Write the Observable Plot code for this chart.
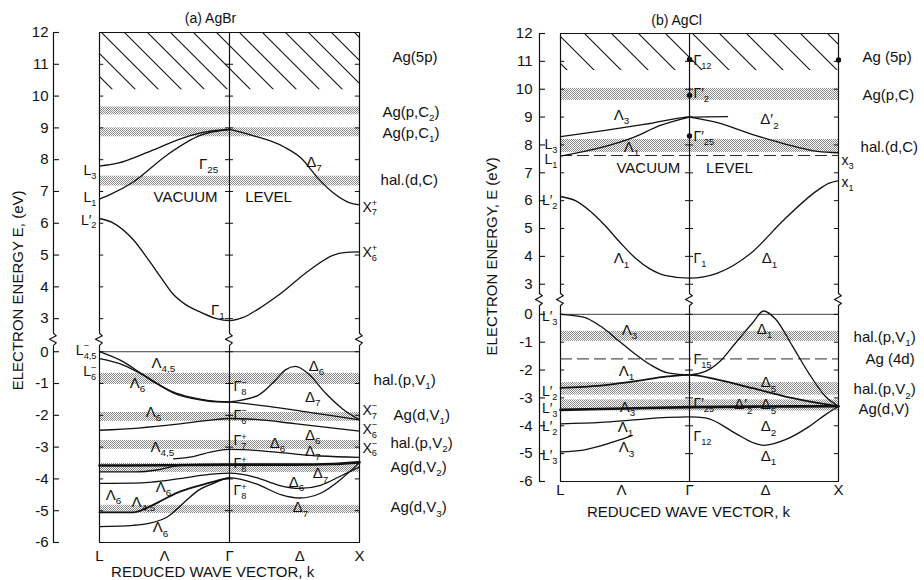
<!DOCTYPE html>
<html><head><meta charset="utf-8">
<script src="https://cdn.jsdelivr.net/npm/d3@7"></script>
<script src="https://cdn.jsdelivr.net/npm/@observablehq/plot@0.6"></script>
<style>
body{margin:0;background:#fff}
#wrap{position:relative;width:924px;height:580px;overflow:hidden}
#wrap svg{position:absolute;top:0}
</style>
</head><body><div id="wrap"></div>
<script>
// ---------- common ----------
const tickE = [-6,-5,-4,-3,-2,-1,0,3,4,5,6,7,8,9,10,11,12];
const kLetters = ["L","Λ","Γ","Δ","X"];

// ---------- (a) AgBr : k  L=0, Γ=0.5, X=1 ; energies in eV ----------
const brKPos = [0, 0.25, 0.5, 0.77, 1];
const brHatch = [10.2, 12];
const brBandLo = [9.41, 8.72, 7.17, -1.03, -2.19, -3.07, -3.80, -5.09];
const brBandHi = [9.66, 9.00, 7.48, -0.68, -1.91, -2.79, -3.51, -4.83];
// upper (conduction) bands
const brL3  = [[0,7.8],[0.07,7.89],[0.196,8.27],[0.32,8.68],[0.415,8.88],[0.5,8.95]];
const brL1  = [[0,6.76],[0.04,6.9],[0.13,7.3],[0.26,8.15],[0.39,8.77],[0.5,8.95]];
const brD7  = [[0.5,8.95],[0.58,8.78],[0.71,8.4],[0.775,8.05],[0.84,7.42],[0.9,6.95],[0.96,6.65],[1,6.58]];
const brG1  = [[0,6.15],[0.05,6.02],[0.13,5.48],[0.196,4.76],[0.24,4.25],[0.28,3.8],[0.33,3.45],[0.39,3.2],[0.45,3.0],[0.5,2.94],[0.55,3.03],[0.61,3.3],[0.685,3.72],[0.81,4.54],[0.9,5.0],[0.94,5.08],[1,5.1]];
// lower (valence) bands
const brV45 = [[0,0],[0.092,-0.32],[0.158,-0.67],[0.223,-1.0],[0.285,-1.27],[0.35,-1.43],[0.415,-1.53],[0.5,-1.58]];
const brV6  = [[0,-0.22],[0.092,-0.42],[0.158,-0.69],[0.223,-1.02],[0.285,-1.3],[0.35,-1.46],[0.415,-1.55],[0.5,-1.59]];
const brD6u = [[0.5,-1.58],[0.61,-1.37],[0.677,-0.89],[0.715,-0.57],[0.754,-0.46],[0.804,-0.7],[0.869,-1.3],[0.935,-1.8],[1,-2.14]];
const brD7u = [[0.5,-1.58],[0.65,-1.72],[0.8,-1.9],[1,-2.14]];
const brC   = [[0,-2.47],[0.15,-2.4],[0.3,-2.28],[0.42,-2.16],[0.5,-2.1],[0.6,-2.13],[0.75,-2.26],[0.9,-2.4],[1,-2.5]];
const brD   = [[0.285,-3.37],[0.36,-3.3],[0.43,-3.15],[0.5,-3.07],[0.6,-3.1],[0.73,-3.2],[0.85,-3.28],[1,-3.32]];
const brHvy = [[0,-3.58],[0.25,-3.57],[0.5,-3.55],[0.75,-3.55],[0.9,-3.53],[1,-3.48]];
const brE2  = [[0,-3.78],[0.14,-3.78],[0.22,-3.72],[0.29,-3.6],[0.36,-3.56]];
const brF   = [[0,-4.14],[0.13,-4.13],[0.2,-4.1],[0.3,-4.0],[0.4,-3.88],[0.5,-3.82],[0.6,-3.95],[0.69,-4.2],[0.77,-4.3],[0.85,-4.2],[0.93,-3.9],[1,-3.62]];
const brG   = [[0,-5.05],[0.13,-5.05],[0.21,-4.8],[0.3,-4.43],[0.38,-4.22],[0.45,-4.06],[0.5,-3.97]];
const brH   = [[0,-5.5],[0.13,-5.46],[0.19,-5.4],[0.26,-5.2],[0.32,-4.78],[0.38,-4.36],[0.45,-4.1],[0.5,-3.97],[0.6,-4.15],[0.7,-4.5],[0.77,-4.6],[0.85,-4.45],[0.93,-4.0],[1,-3.48]];
const brLeft  = [[7.67,"L_3"],[6.8,"L_1"],[6.1,"L′_2"],[0.05,"L^−_{4,5}"],[-0.62,"L^−_6"]];
const brGam   = [[-1.09,"Γ^−_8"],[-2.0,"Γ^−_6"],[-2.79,"Γ^+_7"],[-3.51,"Γ^+_8"],[-4.36,"Γ^+_8"]];
const brXl    = [[6.51,"X^+_7"],[5.09,"X^+_6"],[-1.84,"X^−_7"],[-2.44,"X^−_6"],[-3.03,"X^−_6"]];
const brInner = [[0.42,7.86,"Γ_{25}"],[0.825,7.92,"Δ_7"],[0.331,6.82,"VACUUM"],[0.65,6.82,"LEVEL"],[0.455,3.28,"Γ_1"],
  [0.246,-0.36,"Λ_{4,5}"],[0.146,-0.99,"Λ_6"],[0.208,-1.91,"Λ_6"],[0.242,-3.01,"Λ_{4,5}"],[0.246,-4.27,"Λ_6"],
  [0.054,-4.52,"Λ_6"],[0.169,-4.74,"Λ_{4,5}"],[0.235,-5.53,"Λ_6"],
  [0.835,-0.46,"Δ_6"],[0.82,-1.43,"Δ_7"],[0.685,-2.88,"Δ_6"],[0.82,-2.63,"Δ_6"],[0.82,-3.13,"Δ_7"],
  [0.758,-4.11,"Δ_6"],[0.85,-3.83,"Δ_7"],[0.773,-4.9,"Δ_7"]];
const brRight = [[1.127,11.23,"Ag(5p)"],[1.088,9.5,"Ag(p,C_2)"],[1.088,8.84,"Ag(p,C_1)"],[1.081,7.36,"hal.(d,C)"],
  [1.054,-0.9,"hal.(p,V_1)"],[1.131,-2.0,"Ag(d,V_1)"],[1.119,-2.88,"hal.(p,V_2)"],[1.119,-3.64,"Ag(d,V_2)"],[1.119,-4.9,"Ag(d,V_3)"]];

// ---------- (b) AgCl : k  L=0, Γ=0.866, X=1.866 ----------
const clKPos = [0, 0.41, 0.866, 1.376, 1.866];
const clHatch = [10.67, 12];
const clBandLo = [9.6, 7.73, -0.97, -2.9, -3.47];
const clBandHi = [10.03, 8.2, -0.61, -2.45, -3.07];
const clDashed = [7.62, -1.6];
const clL3  = [[0,8.3],[0.3,8.52],[0.6,8.77],[0.866,9.0],[1.121,9.02]];
const clL1  = [[0,7.6],[0.27,7.9],[0.49,8.27],[0.67,8.7],[0.866,9.0]];
const clD2  = [[0.866,9.0],[1.054,8.8],[1.275,8.4],[1.497,8.05],[1.725,7.77],[1.866,7.72]];
const clG1  = [[0,6.15],[0.1,6.0],[0.2,5.62],[0.3,5.1],[0.4,4.5],[0.5,3.95],[0.6,3.55],[0.7,3.32],[0.866,3.22],[1.054,3.4],[1.275,4.1],[1.497,5.3],[1.725,6.37],[1.8,6.62],[1.866,6.72]];
const clV1  = [[0,0],[0.154,-0.1],[0.27,-0.43],[0.38,-0.9],[0.49,-1.38],[0.6,-1.8],[0.72,-2.1],[0.866,-2.17],[0.973,-2.05],[1.06,-1.74],[1.175,-1.03],[1.29,-0.3],[1.363,0.12],[1.443,-0.17],[1.557,-1.14],[1.665,-2.1],[1.779,-2.95],[1.866,-3.3]];
const clV2  = [[0,-2.64],[0.27,-2.56],[0.49,-2.41],[0.72,-2.23],[0.866,-2.17],[1.06,-2.35],[1.29,-2.65],[1.51,-2.95],[1.866,-3.3]];
const clHvy = [[0,-3.43],[0.433,-3.38],[0.866,-3.33],[1.366,-3.31],[1.866,-3.3]];
const clV4  = [[0,-3.93],[0.27,-3.88],[0.49,-3.79],[0.72,-3.7],[0.866,-3.68],[0.973,-3.72],[1.175,-4.27],[1.29,-4.6],[1.363,-4.7],[1.51,-4.5],[1.665,-4.04],[1.779,-3.6],[1.866,-3.3]];
const clV5  = [[0,-4.94],[0.154,-4.87],[0.4,-4.5],[0.48,-4.35]];
const clDots = [[0.866,11.07],[0.866,9.78],[0.866,8.32],[1.866,11.05]];
const clLeft  = [[8.02,"L_3"],[7.48,"L_1"],[6.01,"L′_2"],[-0.08,"L′_3"],[-2.77,"L′_2"],[-3.38,"L′_3"],[-4.03,"L′_2"],[-5.07,"L′_3"]];
const clGam   = [[11.03,"Γ_{12}"],[9.85,"Γ′_2"],[8.30,"Γ′_{25}"],[3.92,"Γ_1"],[-1.62,"Γ_{15}"],[-3.2,"Γ′_{25}"],[-4.38,"Γ_{12}"]];
const clXl    = [[7.44,"x_3"],[6.65,"x_1"]];
const clInner = [[0.41,9.06,"Λ_3"],[1.403,8.91,"Δ′_2"],[0.477,7.91,"Λ_1"],[0.59,7.15,"VACUUM"],[1.134,7.15,"LEVEL"],
  [0.41,3.92,"Λ_1"],[1.403,3.92,"Δ_1"],[0.463,-0.58,"Λ_3"],[0.443,-2.05,"Λ_1"],[0.45,-3.34,"Λ_3"],[0.436,-4.06,"Λ_1"],
  [0.443,-4.78,"Λ_3"],[1.369,-0.54,"Δ_1"],[1.396,-2.45,"Δ_5"],[1.228,-3.24,"Δ′_2"],[1.396,-3.24,"Δ_5"],[1.396,-4.03,"Δ_2"],[1.396,-5.1,"Δ_1"]];
const clRight = [[2.027,11.14,"Ag (5p)"],[2.027,9.78,"Ag(p,C)"],[2.014,7.91,"hal.(d,C)"],[1.967,-0.83,"hal.(p,V_1)"],
  [2.047,-1.62,"Ag (4d)"],[1.967,-2.70,"hal.(p,V_2)"],[2.0,-3.42,"Ag(d,V)"]];

// ---------- drawing ----------
const INK = "#111";
const FONT = "'Liberation Sans', Arial, 'DejaVu Sans', sans-serif";

function panelMarks(P) {
  const tv = P.toV;
  const tk = 6 / P.pxPerK, cr = 4 / P.pxPerK, zw = 4 / P.pxPerK;
  const vTop = tv(12), vBot = tv(-6);
  const verts = [P.axisK, P.kL, P.kG, P.kX];
  const brk = [];
  verts.forEach((x, i) => {
    const [lo, hi] = P.zig;
    [[0, vBot],[0, lo],[zw*0.7, lo + 0.08],[-zw, (lo+hi)/2],[zw*0.7, hi - 0.08],[0, hi],[0, vTop]]
      .forEach(([dx, v]) => brk.push({x: x + dx, v, z: i}));
  });
  const line = (c, w) => Plot.line(c, {x: d => d[0], y: d => tv(d[1]), curve: "monotone-x", stroke: INK, strokeWidth: w});
  const lbl = {fill: INK, fontSize: 15};
  const sm = {fill: INK, fontSize: 14};
  return [
    Plot.rect([P.hatch], {x1: P.kL, x2: P.kX, y1: d => tv(d[0]), y2: d => tv(d[1]), fill: `url(#${P.id}hatch)`}),
    Plot.rect(d3.zip(P.bandLo, P.bandHi), {x1: P.kL, x2: P.kX, y1: d => tv(d[0]), y2: d => tv(d[1]), fill: `url(#${P.id}stip)`}),
    ...(P.dashed || []).map(E => Plot.ruleY([E], {y: tv, x1: P.kL, x2: P.kX, stroke: INK, strokeWidth: 0.9, strokeDasharray: "12,5"})),
    Plot.ruleY([12, -6], {y: tv, x1: P.kL, x2: P.kX, stroke: INK, strokeWidth: 1.2}),
    Plot.ruleY([0], {y: tv, x1: P.kL, x2: P.kX, stroke: INK, strokeWidth: 0.8}),
    Plot.line(brk, {x: "x", y: "v", z: "z", stroke: INK, strokeWidth: 1.2}),
    Plot.ruleY(tickE, {y: tv, x1: P.axisK, x2: P.axisK + tk, stroke: INK, strokeWidth: 1.1}),
    Plot.ruleY(tickE, {y: tv, x1: P.kL, x2: P.kL + tk * 0.7, stroke: INK, strokeWidth: 1}),
    Plot.ruleY(tickE, {y: tv, x1: P.kX - tk * 0.7, x2: P.kX, stroke: INK, strokeWidth: 1}),
    Plot.ruleY(tickE, {y: tv, x1: P.kG - cr, x2: P.kG + cr, stroke: INK, strokeWidth: 1}),
    ...P.thin.map(c => line(c, 1.3)),
    ...P.heavy.map(c => line(c, 2.6)),
    ...(P.medium || []).map(c => line(c, 1.8)),
    Plot.dot(P.dots || [], {x: d => d[0], y: d => tv(d[1]), r: 2.7, fill: INK}),
    Plot.text(tickE, {x: P.axisK, y: tv, text: d => String(d), dx: P.tickDx, textAnchor: "end", fill: INK, fontSize: 15}),
    Plot.text(P.left, {x: P.kL, y: d => tv(d[0]), text: d => d[1], textAnchor: "end", dx: -3, ...sm}),
    Plot.text(P.gam, {x: P.kG, y: d => tv(d[0]), text: d => d[1], textAnchor: "start", dx: 4, ...sm}),
    Plot.text(P.xl, {x: P.kX, y: d => tv(d[0]), text: d => d[1], textAnchor: "start", dx: 3, ...sm}),
    Plot.text(P.inner, {x: d => d[0], y: d => tv(d[1]), text: d => d[2], textAnchor: "middle", ...lbl}),
    Plot.text(P.right, {x: d => d[0], y: d => tv(d[1]), text: d => d[2], textAnchor: "start", ...lbl}),
    Plot.text(kLetters, {x: (d, i) => P.kPos[i], y: P.letterV, text: d => d, ...lbl}),
    Plot.text([P.title], {x: P.titleK, y: P.titleV, text: d => d, fill: INK, fontSize: 14}),
    Plot.text([P.xTitle], {x: P.xTitleK, y: P.xTitleV, text: d => d, fill: INK, fontSize: 15}),
    Plot.text([P.yTitle], {x: P.yTitleK, y: P.yTitleV, text: d => d, rotate: -90, fill: INK, fontSize: 15})
  ];
}

function makePanel(P) {
  const svg = Plot.plot({
    width: P.width, height: 580,
    x: {domain: P.xDomain, range: P.xRange, axis: null},
    y: {domain: P.yDomain, range: P.yRange, axis: null},
    style: {fontFamily: FONT, fontSize: "15px", background: "transparent", overflow: "visible"},
    marks: panelMarks(P)
  });
  const defs = d3.select(svg).insert("defs", ":first-child");
  const h = defs.append("pattern").attr("id", P.id + "hatch").attr("patternUnits", "userSpaceOnUse")
    .attr("width", P.hatchGap).attr("height", P.hatchGap);
  const g = P.hatchGap;
  h.append("path").attr("d", `M-2,-2L${g+2},${g+2}M-2,${g-2}L2,${g+2}M${g-2},-2L${g+2},2`)
    .attr("stroke", INK).attr("stroke-width", 1.1);
  const s = defs.append("pattern").attr("id", P.id + "stip").attr("patternUnits", "userSpaceOnUse").attr("width", 2).attr("height", 2);
  s.append("rect").attr("width", 2).attr("height", 2).attr("fill", "#fff");
  s.append("rect").attr("width", 1).attr("height", 1).attr("fill", "#8a8a8a");
  s.append("rect").attr("x", 1).attr("y", 1).attr("width", 1).attr("height", 1).attr("fill", "#8a8a8a");
  svg.style.left = P.left0 + "px";
  document.getElementById("wrap").appendChild(svg);
  richify(svg);
  return svg;
}

function richify(svg) {
  const NS = "http://www.w3.org/2000/svg";
  svg.querySelectorAll("text").forEach(el => {
    const s = el.textContent;
    if (!/[_^]/.test(s)) return;
    const fs = parseFloat(getComputedStyle(el).fontSize) || 15;
    const toks = [];
    let i = 0;
    while (i < s.length) {
      const c = s[i];
      if (c === "_" || c === "^") {
        let t;
        if (s[i + 1] === "{") { const j = s.indexOf("}", i); t = s.slice(i + 2, j); i = j + 1; }
        else { t = s[i + 1]; i += 2; }
        toks.push({t, m: c});
      } else {
        let j = i;
        while (j < s.length && s[j] !== "_" && s[j] !== "^") j++;
        toks.push({t: s.slice(i, j), m: ""});
        i = j;
      }
    }
    el.textContent = "";
    let cur = 0, prev = null;
    toks.forEach(tk => {
      const ts = document.createElementNS(NS, "tspan");
      ts.textContent = tk.t;
      const target = tk.m === "_" ? 0.28 * fs : tk.m === "^" ? -0.38 * fs : 0;
      if (target !== cur) ts.setAttribute("dy", target - cur);
      cur = target;
      if (tk.m) ts.setAttribute("font-size", 0.66 * fs);
      el.appendChild(ts);
      if (tk.m && prev && prev.m && prev.m !== tk.m) {
        ts.setAttribute("dx", -prev.el.getComputedTextLength());
      }
      prev = {m: tk.m, el: ts};
    });
  });
}

// panel (a)
makePanel({
  id: "a", left0: 0, width: 480,
  xDomain: [0, 1], xRange: [99, 359], yDomain: [-6, 10.04], yRange: [542, 32],
  pxPerK: 260, toV: E => E > 1.5 ? E - 1.96 : E,
  kL: 0, kG: 0.5, kX: 1, axisK: -0.177, tickDx: -5, zig: [0.2, 0.58],
  hatch: brHatch, hatchGap: 23, bandLo: brBandLo, bandHi: brBandHi,
  thin: [brL3, brL1, brD7, brG1, brV45, brV6, brD6u, brD7u, brC, brD, brE2, brF, brH],
  heavy: [brHvy], medium: [brG],
  left: brLeft, gam: brGam, xl: brXl, inner: brInner, right: brRight,
  kPos: brKPos, letterV: -6.44,
  title: "(a) AgBr", titleK: 0.427, titleV: 10.47,
  xTitle: "REDUCED WAVE VECTOR, k", xTitleK: 0.435, xTitleV: -6.94,
  yTitle: "ELECTRON ENERGY E, (eV)", yTitleK: -0.312, yTitleV: 1.93
});

// panel (b)
makePanel({
  id: "b", left0: 470, width: 454,
  xDomain: [0, 1.866], xRange: [90, 368], yDomain: [-6, 10.08], yRange: [481, 33],
  pxPerK: 148.98, toV: E => E > 1.5 ? E - 1.92 : E,
  kL: 0, kG: 0.866, kX: 1.866, axisK: -0.141, tickDx: -7, zig: [0.32, 0.75],
  hatch: clHatch, hatchGap: 27, bandLo: clBandLo, bandHi: clBandHi, dashed: clDashed,
  thin: [clL3, clL1, clD2, clG1, clV1, clV4, clV5],
  heavy: [clHvy], medium: [clV2], dots: clDots,
  left: clLeft, gam: clGam, xl: clXl, inner: clInner, right: clRight,
  kPos: clKPos, letterV: -6.32,
  title: "(b) AgCl", titleK: 0.779, titleV: 10.55,
  xTitle: "REDUCED WAVE VECTOR, k", xTitleK: 0.859, xTitleV: -7.11,
  yTitle: "ELECTRON ENERGY, E (eV)", yTitleK: -0.456, yTitleV: 2.08
});
</script>
</body></html>
